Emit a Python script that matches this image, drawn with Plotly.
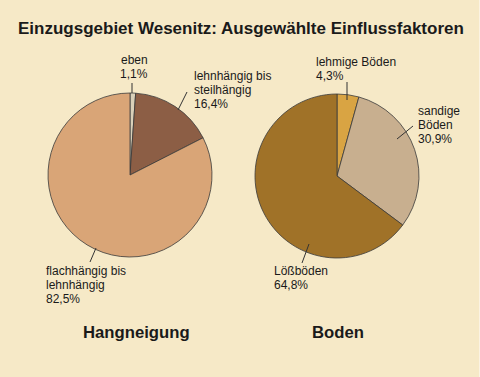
import math
import plotly.graph_objects as go

W, H = 480, 377

# Data
hang_labels = ["eben", "lehnhängig bis steilhängig", "flachhängig bis lehnhängig"]
hang_values = [1.1, 16.4, 82.5]
hang_colors = ["#D9D0B9", "#8C5E45", "#D9A577"]

boden_labels = ["lehmige Böden", "sandige Böden", "Lößböden"]
boden_values = [4.3, 30.9, 64.8]
boden_colors = ["#D9A443", "#C8AF8F", "#A07228"]

title = "Einzugsgebiet Wesenitz: Ausgewählte Einflussfaktoren"
sub_titles = ["Hangneigung", "Boden"]

BG = "#F6E9C7"
TXT = "#1a1a1a"
FONT = "Liberation Sans, Arial"

def px_x(x):
    return x / W

def px_y(y):
    return 1 - y / H

# pie geometry in pixels (center x, center y, radius)
pies = [(130, 175, 82), (337, 176, 82)]

fig = go.Figure()
for (cx, cy, r), labels, values, colors in [
    (pies[0], hang_labels, hang_values, hang_colors),
    (pies[1], boden_labels, boden_values, boden_colors),
]:
    fig.add_trace(go.Pie(
        labels=labels, values=values, sort=False, direction="clockwise", rotation=0,
        marker=dict(colors=colors, line=dict(color="#3a3a3a", width=0.8)),
        textinfo="none", hoverinfo="label+percent", showlegend=False,
        domain=dict(x=[px_x(cx - r), px_x(cx + r)], y=[px_y(cy + r), px_y(cy - r)]),
    ))

def fmt(v):
    return f"{v:.1f}".replace(".", ",") + "%"

annotations = []
shapes = []

REF_STEP = 12.6
STEP = 13.9

def add_label(x, y0, lines, anchor="left"):
    n = len(lines)
    # keep the block centred where the reference block sits
    yc = y0 + (n - 1) * REF_STEP / 2
    start = yc - (n - 1) * STEP / 2
    for i, t in enumerate(lines):
        annotations.append(dict(
            x=px_x(x), y=px_y(start + i * STEP), xref="paper", yref="paper",
            text=t, showarrow=False, xanchor=anchor, yanchor="middle",
            borderpad=0,
            font=dict(family=FONT, size=12, color=TXT),
        ))

def add_line(p1, p2):
    shapes.append(dict(type="line", xref="paper", yref="paper",
                       x0=px_x(p1[0]), y0=px_y(p1[1]), x1=px_x(p2[0]), y1=px_y(p2[1]),
                       line=dict(color="#333333", width=1)))

# Hangneigung labels
add_label(134, 61, ["eben", fmt(hang_values[0])], anchor="center")
add_line((132, 93), (132, 83))
add_label(193, 77, ["lehnhängig bis", "steilhängig", fmt(hang_values[1])])
add_line((178, 110), (187, 92))
add_label(45, 272, ["flachhängig bis", "lehnhängig", fmt(hang_values[2])])
add_line((96, 248), (90, 262))

# Boden labels
add_label(315, 63, ["lehmige Böden", fmt(boden_values[0])])
add_line((347, 100), (347, 82))
add_label(417, 112, ["sandige", "Böden", fmt(boden_values[1])])
add_line((397, 139), (413, 126))
add_label(273, 272, ["Lößböden", fmt(boden_values[2])])
add_line((309, 244), (302, 263))

# Titles
annotations.append(dict(x=px_x(241), y=px_y(28), xref="paper", yref="paper", text=f"<b>{title}</b>",
                        showarrow=False, xanchor="center", yanchor="middle",
                        font=dict(family=FONT, size=17, color=TXT)))
for t, xc in zip(sub_titles, [136, 338]):
    annotations.append(dict(x=px_x(xc), y=px_y(332), xref="paper", yref="paper", text=f"<b>{t}</b>",
                            showarrow=False, xanchor="center", yanchor="middle",
                            font=dict(family=FONT, size=16.7, color=TXT)))

# light right edge
shapes.append(dict(type="line", xref="paper", yref="paper", x0=479.5 / W, x1=479.5 / W, y0=0, y1=1,
                   line=dict(color="#FBF3E2", width=1)))

fig.update_layout(
    width=W, height=H, margin=dict(l=0, r=0, t=0, b=0),
    paper_bgcolor=BG, plot_bgcolor=BG,
    annotations=annotations, shapes=shapes,
)
fig.write_html("out.html", config={"displayModeBar": False})
